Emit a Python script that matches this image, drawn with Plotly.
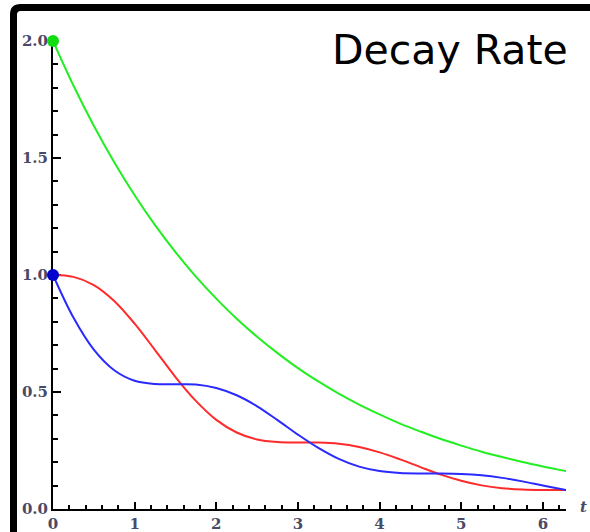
import plotly.graph_objects as go

# ---- data ----
t_vals = [0.0, 0.25, 0.5, 0.75, 1.0, 1.25, 1.5, 1.75, 2.0, 2.25, 2.5, 2.75, 3.0,
          3.25, 3.5, 3.75, 4.0, 4.25, 4.5, 4.75, 5.0, 5.25, 5.5, 5.75, 6.0, 6.25, 6.283]
green_vals = [2.000, 1.810, 1.638, 1.482, 1.341, 1.213, 1.098, 0.993, 0.899, 0.813, 0.736,
              0.666, 0.602, 0.545, 0.493, 0.446, 0.404, 0.365, 0.331, 0.299, 0.271, 0.245,
              0.222, 0.201, 0.182, 0.164, 0.162]
red_vals = [1.000, 0.992, 0.957, 0.889, 0.792, 0.679, 0.564, 0.462, 0.381, 0.327, 0.297,
            0.286, 0.284, 0.284, 0.279, 0.265, 0.242, 0.212, 0.179, 0.147, 0.121, 0.101,
            0.089, 0.083, 0.081, 0.081, 0.081]
blue_vals = [1.000, 0.818, 0.681, 0.593, 0.548, 0.534, 0.533, 0.532, 0.517, 0.486, 0.439,
             0.380, 0.318, 0.261, 0.214, 0.181, 0.162, 0.154, 0.152, 0.152, 0.150, 0.144,
             0.133, 0.118, 0.100, 0.083, 0.081]
start_t = [0.0, 0.0]
start_y = [2.0, 1.0]
start_colors = ["#11dd11", "#0000cc"]
x_ticks = [0, 1, 2, 3, 4, 5, 6]
y_ticks = [0.0, 0.5, 1.0, 1.5, 2.0]
title_text = "Decay Rate"
x_label = "t"

fig = go.Figure()
fig.add_trace(go.Scatter(x=t_vals, y=green_vals, mode="lines",
                         line=dict(color="#22ee22", width=2, shape="spline"),
                         cliponaxis=False, hoverinfo="skip"))
fig.add_trace(go.Scatter(x=t_vals, y=red_vals, mode="lines",
                         line=dict(color="#ff2a2a", width=2, shape="spline"),
                         cliponaxis=False, hoverinfo="skip"))
fig.add_trace(go.Scatter(x=t_vals, y=blue_vals, mode="lines",
                         line=dict(color="#2a2aff", width=2, shape="spline"),
                         cliponaxis=False, hoverinfo="skip"))
fig.add_trace(go.Scatter(x=start_t, y=start_y, mode="markers",
                         marker=dict(color=start_colors, size=12),
                         cliponaxis=False, hoverinfo="skip"))

tick_font = dict(family="DejaVu Serif", size=15, color="#4a4a66", weight="bold")

L, R, T, B = 53, 24, 41, 23
W, H = 590, 532
pw, ph = W - L - R, H - T - B

def px_x(p):
    return (p - L) / pw

def px_y(p):
    return (H - B - p) / ph

fig.update_layout(
    width=W, height=H,
    margin=dict(l=L, r=R, t=T, b=B, autoexpand=False),
    paper_bgcolor="white", plot_bgcolor="white",
    showlegend=False,
    xaxis=dict(range=[0, 6.2832], showgrid=False, zeroline=False, automargin=False,
               showline=True, linecolor="black", linewidth=2,
               ticks="inside", ticklen=7, tickwidth=1.5, tickcolor="black",
               tickvals=x_ticks, tickfont=tick_font,
               minor=dict(dtick=0.2, ticks="inside", ticklen=4, tickwidth=1.5, tickcolor="black"),
               layer="below traces", fixedrange=True),
    yaxis=dict(range=[0, 2.0], showgrid=False, zeroline=False, automargin=False,
               showline=True, linecolor="black", linewidth=2,
               ticks="inside", ticklen=8, tickwidth=1.5, tickcolor="black",
               tickvals=y_ticks, tickformat=".1f", tickfont=tick_font,
               minor=dict(dtick=0.1, ticks="inside", ticklen=5, tickwidth=1.5, tickcolor="black"),
               layer="below traces", fixedrange=True),
)

# frame (thick black border, top and left visible)
x0p = px_x(13.5)
y1p = px_y(7.5)
rx, ry = 7 / pw, 7 / ph
frame_path = (f"M {x0p},-0.2 L {x0p},{y1p - ry} "
              f"Q {x0p},{y1p} {x0p + rx},{y1p} L 1.2,{y1p}")
fig.add_shape(type="path", path=frame_path, xref="paper", yref="paper",
              line=dict(color="black", width=7))

fig.add_annotation(text=title_text, x=px_x(570), y=px_y(50), xref="paper", yref="paper",
                   xanchor="right", yanchor="middle", showarrow=False,
                   font=dict(family="DejaVu Sans", size=41, color="black"))
fig.add_annotation(text=x_label, x=px_x(583), y=px_y(507), xref="paper", yref="paper",
                   xanchor="center", yanchor="middle", showarrow=False,
                   font=dict(family="DejaVu Serif", size=15, color="#4a4a66",
                             style="italic", weight="bold"))

fig.write_html("out.html")
